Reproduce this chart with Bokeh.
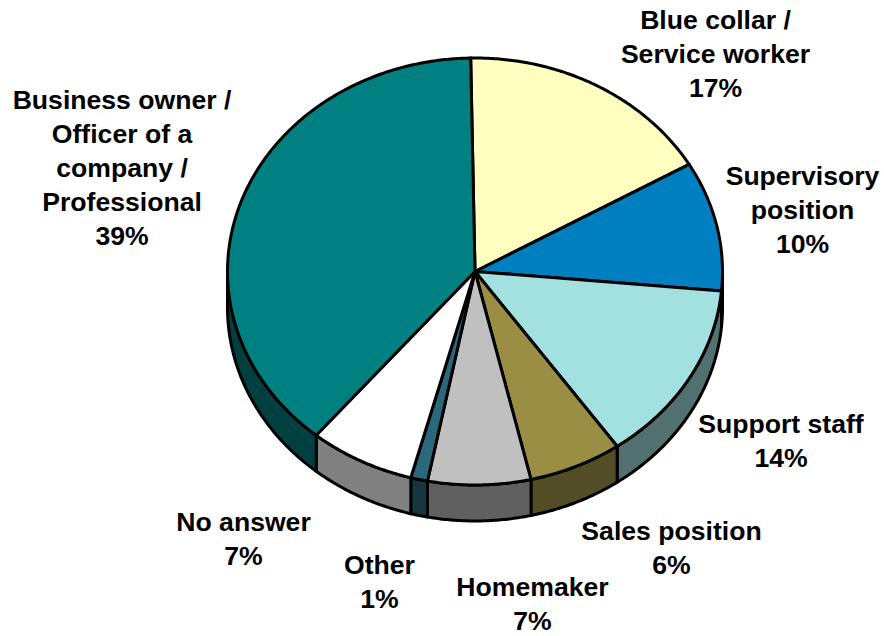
import numpy as np
from bokeh.plotting import figure
from bokeh.models import ColumnDataSource
from bokeh.core.properties import value
from bokeh.embed import file_html
from bokeh.resources import INLINE

categories = ["Blue collar / Service worker", "Supervisory position", "Support staff",
              "Sales position", "Homemaker", "Other", "No answer",
              "Business owner / Officer of a company / Professional"]
shares = [16.9, 9.8, 13.8, 6.1, 6.7, 1.1, 6.9, 38.6]
top_colors = ["#FFFFBF", "#0080C0", "#A3E1E1", "#998E43", "#C0C0C0", "#2A697C", "#FFFFFF", "#008080"]
wall_colors = ["#80805F", "#004060", "#527070", "#534D27", "#606060", "#163740", "#808080", "#004040"]

label_lines = [
    ["Blue collar /", "Service worker", "17%"],
    ["Supervisory", "position", "10%"],
    ["Support staff", "14%"],
    ["Sales position", "6%"],
    ["Homemaker", "7%"],
    ["Other", "1%"],
    ["No answer", "7%"],
    ["Business owner /", "Officer of a", "company /", "Professional", "39%"],
]
label_x = [715, 802, 780.5, 671, 532, 379, 243, 121.5]
label_y = [19.5, 175, 423, 530, 586, 564, 521, 99]

CX, CY, RX, RY, DEPTH = 474.5, 271, 247.5, 213.5, 36
START = -1.0
LINE_GAP = 34

W, H = 884, 636
p = figure(width=W, height=H, x_range=(0, W), y_range=(H, 0),
           output_backend="svg", toolbar_location=None, min_border=0)
p.axis.visible = False
p.grid.visible = False
p.outline_line_color = None
p.background_fill_color = None
p.border_fill_color = None


def rim(a0, a1, dy=0.0):
    t = np.radians(np.linspace(a0, a1, max(int(abs(a1 - a0)) * 2, 2) + 1))
    return CX + RX * np.sin(t), CY + dy - RY * np.cos(t)


fractions = np.array(shares, dtype=float) / sum(shares)
edges = START + np.concatenate([[0], np.cumsum(fractions)]) * 360

wx, wy, wc, tx, ty, tc = [], [], [], [], [], []
for a0, a1, c_top, c_wall in zip(edges[:-1], edges[1:], top_colors, wall_colors):
    lo, hi = max(a0, 90.0), min(a1, 270.0)
    if hi > lo:
        x0, y0 = rim(lo, hi)
        x1, y1 = rim(hi, lo, DEPTH)
        wx.append(np.concatenate([x0, x1]).tolist())
        wy.append(np.concatenate([y0, y1]).tolist())
        wc.append(c_wall)
    x0, y0 = rim(a0, a1)
    tx.append(np.concatenate([[CX], x0]).tolist())
    ty.append(np.concatenate([[CY], y0]).tolist())
    tc.append(c_top)

p.patches(xs="x", ys="y", fill_color="c", line_color="black", line_width=3, line_join="round",
          source=ColumnDataSource(dict(x=wx, y=wy, c=wc)))
p.patches(xs="x", ys="y", fill_color="c", line_color="black", line_width=3, line_join="round",
          source=ColumnDataSource(dict(x=tx, y=ty, c=tc)))

xs, ys, texts = [], [], []
for lines, lx, ly in zip(label_lines, label_x, label_y):
    for i, line in enumerate(lines):
        xs.append(lx)
        ys.append(ly + i * LINE_GAP)
        texts.append(line)

p.text(x="x", y="y", text="t", source=ColumnDataSource(dict(x=xs, y=ys, t=texts)),
       text_font=value("Liberation Sans"), text_font_style="bold", text_font_size="26.6px",
       text_color="black", text_align="center", text_baseline="middle")

open("out.html", "w").write(file_html(p, INLINE))
